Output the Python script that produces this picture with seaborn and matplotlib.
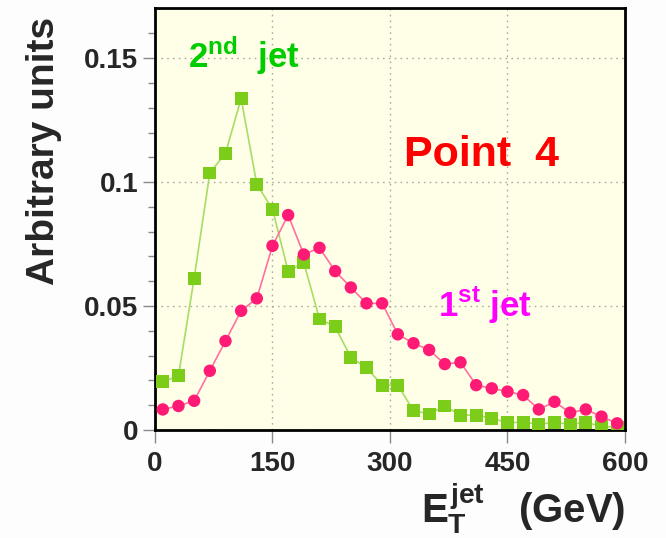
import numpy as np
import pandas as pd
import matplotlib
matplotlib.use("Agg")
import matplotlib.pyplot as plt
import seaborn as sns

# bin centres (GeV) and normalised jet ET distributions
et_bins = np.arange(10, 600, 20)
jet1 = [0.0083, 0.0097, 0.0118, 0.0239, 0.0359, 0.0481, 0.0531, 0.0743, 0.0867, 0.0708,
        0.0735, 0.0641, 0.0575, 0.0511, 0.0511, 0.0386, 0.0350, 0.0323, 0.0266, 0.0273,
        0.0181, 0.0168, 0.0155, 0.0141, 0.0083, 0.0114, 0.0070, 0.0083, 0.0054, 0.0027]
jet2 = [0.0195, 0.0219, 0.0612, 0.1037, 0.1116, 0.1337, 0.0991, 0.0891, 0.0641, 0.0675,
        0.0448, 0.0417, 0.0293, 0.0251, 0.0181, 0.0181, 0.0078, 0.0065, 0.0097, 0.0060,
        0.0060, 0.0047, 0.0030, 0.0031, 0.0024, 0.0030, 0.0024, 0.0030, 0.0016, 0.0010]
xticks = [0, 150, 300, 450, 600]
yticks = [0, 0.05, 0.1, 0.15]
ytick_labels = ["0", "0.05", "0.1", "0.15"]

df = pd.DataFrame({"et": et_bins, "jet1": jet1, "jet2": jet2})

sns.set_style("ticks")
plt.rcParams["font.family"] = ["Liberation Sans", "DejaVu Sans"]
plt.rcParams["font.weight"] = "bold"
plt.rcParams["mathtext.fontset"] = "custom"
plt.rcParams["mathtext.rm"] = "Liberation Sans:bold"
plt.rcParams["mathtext.it"] = "Liberation Sans:bold"
plt.rcParams["mathtext.bf"] = "Liberation Sans:bold"

fig = plt.figure(figsize=(6.66, 5.38), dpi=100, facecolor="#fdfdfd")
ax = fig.add_axes([0.2327, 0.2007, 0.7057, 0.7843])
ax.set_facecolor("#ffffe8")

green, green_line = "#7ccc1a", "#a6dd66"
pink, pink_line = "#ff1a75", "#ff70a0"

sns.lineplot(data=df, x="et", y="jet2", color=green_line, lw=1.2, ax=ax, zorder=2)
sns.scatterplot(data=df, x="et", y="jet2", marker="s", s=85, color=green,
                edgecolor="none", ax=ax, zorder=3)
sns.lineplot(data=df, x="et", y="jet1", color=pink_line, lw=1.2, ax=ax, zorder=4)
sns.scatterplot(data=df, x="et", y="jet1", marker="o", s=80, color=pink,
                edgecolor="none", ax=ax, zorder=5)

ax.set_xlim(0, 600)
ax.set_ylim(0, 0.1702)
ax.set_xticks(xticks)
ax.set_xticklabels([str(t) for t in xticks])
ax.set_yticks(yticks)
ax.set_yticklabels(ytick_labels)
ax.set_yticks(np.arange(0, 0.17, 0.01), minor=True)
ax.tick_params(axis="both", which="major", labelsize=20, length=9, width=1, color="#888888", pad=6)
ax.tick_params(axis="y", which="major", pad=3)
ax.tick_params(axis="y", which="minor", length=5, width=1, color="#888888")
ax.grid(True, which="major", color="#aaaaaa", linestyle=(0, (1.2, 3)), lw=1)
for s in ax.spines.values():
    s.set_color("black")
    s.set_linewidth(2)

ax.set_xlabel(r"$E_T^{jet}$   (GeV)", fontsize=29, fontweight="bold", loc="right", labelpad=3)
ax.set_ylabel("Arbitrary units", fontsize=28, fontweight="bold", loc="top")
ax.yaxis.set_label_coords(-0.197, 0.98)

ax.text(417, 0.111, "Point  4", color="#ff0000", fontsize=31, fontweight="bold",
        ha="center", va="center")
ax.text(114, 0.151, r"2$^{nd}$  jet", color="#00cc00", fontsize=25, fontweight="bold",
        ha="center", va="center")
ax.text(421, 0.0504, r"1$^{st}$ jet", color="#ff00ff", fontsize=25, fontweight="bold",
        ha="center", va="center")

fig.savefig("out.png", dpi=100, facecolor=fig.get_facecolor())
